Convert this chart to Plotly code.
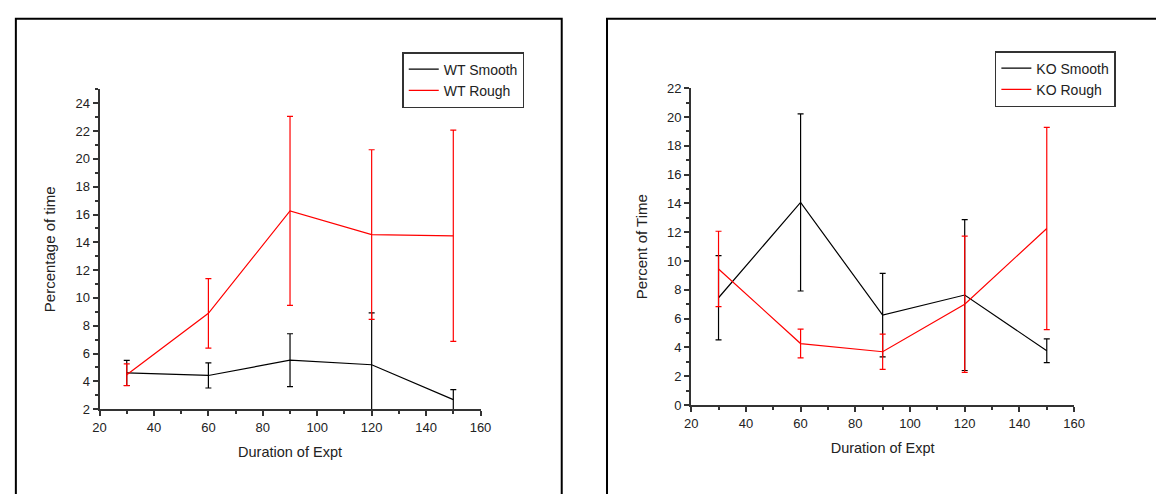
import plotly.graph_objects as go

# ---- data ----
durations = [30, 60, 90, 120, 150]

wt_smooth = [4.6, 4.42, 5.52, 5.19, 2.68]
wt_smooth_err = [0.9, 0.9, 1.9, 3.74, 0.72]
wt_rough = [4.47, 8.89, 16.26, 14.56, 14.47]
wt_rough_err = [0.78, 2.5, 6.8, 6.1, 7.6]

ko_smooth = [7.45, 14.07, 6.24, 7.64, 3.77]
ko_smooth_err = [2.93, 6.15, 2.9, 5.24, 0.83]
ko_rough = [9.45, 4.27, 3.70, 7.0, 12.26]
ko_rough_err = [2.62, 1.0, 1.23, 4.73, 7.02]

W, H = 1156, 494
FONT = "Liberation Sans, Arial, sans-serif"
BLACK = "#000000"
RED = "#ff0000"
AX = "#333333"


def px_x(p):
    return p / W


def px_y(p):
    return (H - p) / H


def trace(y, err, name, color, xa, ya, legend):
    return go.Scatter(
        x=durations, y=y, name=name, mode="lines",
        line=dict(color=color, width=1.2),
        error_y=dict(type="data", array=err, visible=True,
                     color=color, thickness=1.2, width=3),
        xaxis=xa, yaxis=ya, legend=legend,
    )


fig = go.Figure()
fig.add_trace(trace(wt_smooth, wt_smooth_err, "WT Smooth", BLACK, "x", "y", "legend"))
fig.add_trace(trace(wt_rough, wt_rough_err, "WT Rough", RED, "x", "y", "legend"))
fig.add_trace(trace(ko_smooth, ko_smooth_err, "KO Smooth", BLACK, "x2", "y2", "legend2"))
fig.add_trace(trace(ko_rough, ko_rough_err, "KO Rough", RED, "x2", "y2", "legend2"))

common_x = dict(
    range=[20, 160], dtick=20, tick0=20, showline=True, linewidth=2, linecolor=AX,
    ticks="outside", ticklen=5, tickwidth=1.5, tickcolor=AX, showgrid=False,
    zeroline=False, tickfont=dict(size=13, color="#222", family=FONT),
    minor=dict(dtick=10, ticks="outside", ticklen=3, tickwidth=1.5, tickcolor=AX, showgrid=False),
    title=dict(text="Duration of Expt", font=dict(size=14.5, color="#222", family=FONT), standoff=13),
    fixedrange=True,
)
common_y = dict(
    showline=True, linewidth=2, linecolor=AX, ticks="outside", ticklen=5,
    tickwidth=1.5, tickcolor=AX, showgrid=False, zeroline=False, dtick=2,
    tickfont=dict(size=13, color="#222", family=FONT),
    minor=dict(dtick=1, ticks="outside", ticklen=3, tickwidth=1.5, tickcolor=AX, showgrid=False),
    fixedrange=True,
)

fig.update_layout(
    width=W, height=H,
    margin=dict(l=0, r=0, t=0, b=0),
    paper_bgcolor="white", plot_bgcolor="white",
    font=dict(family=FONT, color="#222"),
    xaxis=dict(common_x, domain=[px_x(94), px_x(481)], anchor="y"),
    yaxis=dict(common_y, domain=[px_y(414.7), px_y(85.0)], range=[2, 25], tick0=2,
               anchor="x",
               title=dict(text="Percentage of time", font=dict(size=15, color="#222", family=FONT), standoff=16)),
    xaxis2=dict(common_x, domain=[px_x(695), px_x(1084)], anchor="y2"),
    yaxis2=dict(common_y, domain=[px_y(410.5), px_y(83.8)], range=[0, 22], tick0=0,
                anchor="x2",
                title=dict(text="Percent of Time", font=dict(size=15, color="#222", family=FONT), standoff=16)),
    legend=dict(x=px_x(401.5), y=px_y(46.5), xanchor="left", yanchor="top",
                bordercolor="#333", borderwidth=1.5, bgcolor="white",
                font=dict(size=14, family=FONT, color="#222"), itemwidth=30,
                tracegroupgap=0),
    legend2=dict(x=px_x(1003.5), y=px_y(45.5), xanchor="left", yanchor="top",
                 bordercolor="#333", borderwidth=1.5, bgcolor="white",
                 font=dict(size=14, family=FONT, color="#222"), itemwidth=30,
                 tracegroupgap=0),
    showlegend=True,
    shapes=[
        dict(type="rect", xref="paper", yref="paper",
             x0=px_x(9), x1=px_x(563.5), y0=px_y(12), y1=px_y(520),
             line=dict(color="#000", width=2), layer="below"),
        dict(type="rect", xref="paper", yref="paper",
             x0=px_x(609.5), x1=px_x(1180), y0=px_y(12), y1=px_y(520),
             line=dict(color="#000", width=2), layer="below"),
    ],
)

fig.write_html("out.html")
